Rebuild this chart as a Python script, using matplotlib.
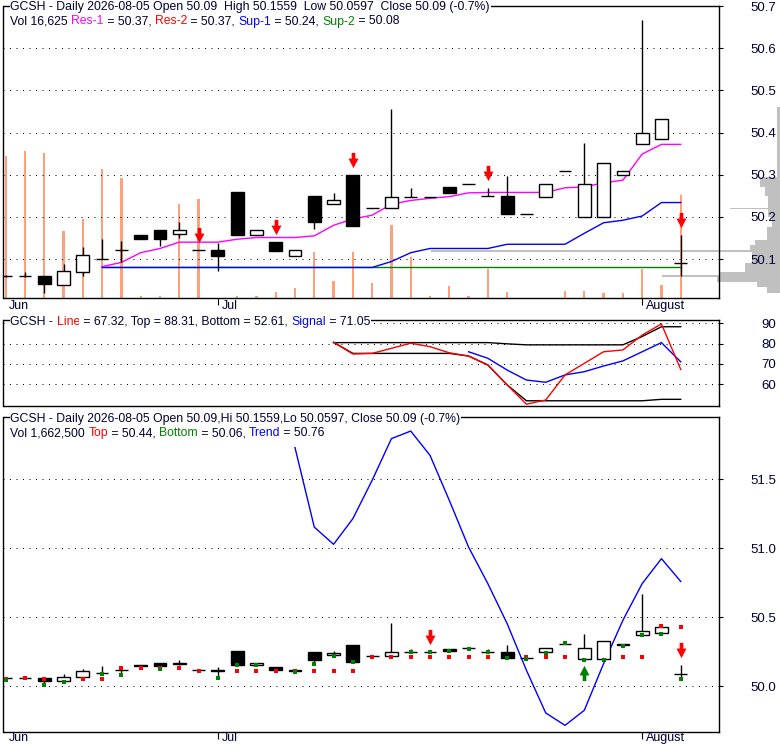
import numpy as np
import matplotlib
matplotlib.use("Agg")
import matplotlib.pyplot as plt
from matplotlib import transforms

plt.rcParams['font.family'] = ['Liberation Sans', 'DejaVu Sans']

nan = np.nan

# daily candles, 2026-06-15 .. 2026-08-05 (trading days)
opens = [50.060, 50.060, 50.060, 50.039, 50.070, 50.100, 50.121, 50.158, 50.170, 50.159,
         50.121, 50.121, 50.259, 50.158, 50.140, 50.108, 50.249, 50.230, 50.299, 50.220,
         50.220, 50.248, 50.248, 50.270, 50.279, 50.249, 50.249, 50.208, 50.248, 50.310,
         50.199, 50.199, 50.299, 50.374, 50.384, 50.090]
highs = [50.062, 50.068, 50.060, 50.088, 50.129, 50.147, 50.143, 50.158, 50.170, 50.188,
         50.121, 50.139, 50.259, 50.170, 50.140, 50.121, 50.249, 50.257, 50.299, 50.220,
         50.457, 50.268, 50.248, 50.270, 50.279, 50.268, 50.297, 50.208, 50.279, 50.310,
         50.376, 50.329, 50.309, 50.666, 50.433, 50.1559]
lows = [50.058, 50.057, 50.020, 50.039, 50.060, 50.100, 50.092, 50.148, 50.132, 50.151,
        50.121, 50.072, 50.158, 50.158, 50.120, 50.108, 50.171, 50.230, 50.179, 50.220,
        50.220, 50.248, 50.248, 50.257, 50.279, 50.249, 50.207, 50.208, 50.248, 50.310,
        50.199, 50.199, 50.299, 50.374, 50.384, 50.0597]
closes = [50.060, 50.060, 50.040, 50.071, 50.109, 50.100, 50.121, 50.148, 50.148, 50.170,
          50.121, 50.108, 50.158, 50.170, 50.120, 50.121, 50.188, 50.240, 50.179, 50.220,
          50.248, 50.248, 50.248, 50.257, 50.279, 50.249, 50.207, 50.208, 50.279, 50.310,
          50.279, 50.329, 50.309, 50.398, 50.433, 50.090]
volume = [22900, 23700, 23400, 10800, 12700, 20800, 19400, 200, 300, 15200,
          16000, 0, 200, 200, 1000, 1600, 7400, 2700, 7400, 2300,
          11800, 6500, 200, 1900, 300, 4700, 1000, 0, 0, 1100,
          1100, 800, 800, 4700, 2100, 16625]

month_pos = [0, 11, 33]
month_lab = ['Jun', 'Jul', 'August']

# support / resistance lines (top panel)
res1 = [nan] * 5 + [50.082, 50.092, 50.115, 50.125, 50.140, 50.140, 50.140, 50.147, 50.151, 50.151,
                    50.151, 50.155, 50.180, 50.195, 50.204, 50.230, 50.239, 50.244, 50.248, 50.257,
                    50.258, 50.258, 50.258, 50.258, 50.269, 50.271, 50.281, 50.287, 50.349, 50.372,
                    50.372]
sup1 = [nan] * 5 + [50.080] * 15 + [50.094, 50.115, 50.125, 50.125, 50.125, 50.125, 50.135, 50.135,
                                    50.135, 50.135, 50.161, 50.186, 50.192, 50.202, 50.234, 50.234]
sup2 = [nan] * 5 + [50.080] * 31
sell_top = [10, 14, 18, 25, 35]

# volume at price (right side histogram)
vp_lo = [50.294, 50.271, 50.249, 50.222, 50.218, 50.200, 50.177, 50.145, 50.133, 50.121,
         50.116, 50.090, 50.070, 50.062, 50.058, 50.046, 50.034, 50.019]
vp_hi = [50.460, 50.294, 50.271, 50.249, 50.222, 50.218, 50.200, 50.177, 50.145, 50.133,
         50.121, 50.116, 50.090, 50.070, 50.062, 50.058, 50.046, 50.034]
vp_len = [3, 20, 15, 12, 50, 12, 8, 13, 25, 30, 349, 28, 35, 60, 118, 63, 23, 13]

# oscillator panel
osc_line = [nan] * 17 + [80.65, 74.9, 75.2, 77.7, 80.2, 78.5, 75.5, 73.9, 69.5, 59.7,
                         50.2, 52.3, 64.6, 70.3, 76.0, 76.9, 84.2, 89.7, 67.32]
osc_top = [nan] * 17 + [80.5] * 9 + [79.9] + [79.4] * 6 + [83.5, 88.3, 88.31]
osc_bottom = [nan] * 17 + [80.65] + [75.2] * 6 + [73.9, 69.5, 59.7, 51.9] + [51.9] * 6 + [52.61, 52.61]
osc_signal = [nan] * 24 + [76.0, 72.8, 67.0, 62.1, 61.0, 64.6, 66.2, 69.0, 71.5, 76.0, 80.5, 71.05]

# bottom panel
trend = [nan] * 15 + [51.730, 51.154, 51.029, 51.215, 51.493, 51.795, 51.850, 51.674, 51.348,
                      51.009, 50.744, 50.454, 50.116, 49.807, 49.717, 49.826, 50.164, 50.478,
                      50.744, 50.925, 50.76]
top_pts = [50.056, 50.063, 50.056, nan, 50.053, 50.056, 50.135, 50.133, 50.133, 50.135,
           50.114, nan, 50.114, 50.114, 50.114, 50.114, 50.114, 50.114, 50.114, 50.215,
           50.215, 50.215, 50.215, 50.215, 50.215, 50.215, nan, 50.215, 50.215, 50.215,
           nan, nan, 50.215, 50.215, 50.440, 50.433]
bot_pts = [50.049, nan, 50.012, 50.029, nan, 50.092, 50.085, nan, 50.126, nan,
           nan, 50.063, 50.155, 50.155, nan, 50.106, 50.164, 50.220, 50.176, nan,
           nan, 50.246, 50.246, 50.256, 50.273, 50.246, 50.205, 50.198, 50.244, 50.312,
           50.188, 50.188, 50.290, 50.370, 50.377, 50.056]
sell_bot = [22, 35]
buy_bot = [30]

n = len(opens)
x = np.arange(n)

W, H = 780, 745
fig = plt.figure(figsize=(W / 100, H / 100), dpi=100)
fig.patch.set_facecolor('white')


def rect(x0, y0, x1, y1):
    return [x0 / W, 1 - y1 / H, (x1 - x0) / W, (y1 - y0) / H]


XLIM = (-0.114, 37.0)
INK = '#000033'
DOTS = (0, (1, 5.5))
HEAD = 8.85
down_arrow = [(-0.24, 1), (0.24, 1), (0.24, 0.25), (0.65, 0.25), (0, -1),
              (-0.65, 0.25), (-0.24, 0.25), (-0.24, 1)]
up_arrow = [(a, -b) for a, b in down_arrow]


def shifted(ax, dy):
    return ax.transData + transforms.ScaledTranslation(0, dy / 100, fig.dpi_scale_trans)


def price_axis(ax, ticks, labels):
    ax.set_xlim(*XLIM)
    ax.set_yticks(ticks)
    ax.set_yticklabels(labels)
    ax.yaxis.tick_right()
    ax.tick_params(axis='y', direction='out', length=2.9, width=0.8, pad=37.9,
                   labelsize=9.5, labelcolor=INK)
    for t in ax.get_yticklabels():
        t.set_horizontalalignment('right')
    ax.grid(axis='y', color='black', linestyle=DOTS, linewidth=0.72)
    for s in ax.spines.values():
        s.set_linewidth(1.0)


def months(ax, dy):
    tr = transforms.blended_transform_factory(ax.transData, ax.transAxes) + \
        transforms.ScaledTranslation(3.5 / 100, -dy / 100, fig.dpi_scale_trans)
    for p, lab in zip(month_pos, month_lab):
        ax.text(p, 0, lab, transform=tr, ha='left', va='top', fontsize=9, color=INK, clip_on=False)
    ax.set_xticks(month_pos[1:])
    ax.set_xticklabels([])
    ax.tick_params(axis='x', direction='out', length=4.8, width=0.8)


def candles(ax):
    o = np.array(opens)
    c = np.array(closes)
    ax.vlines(x, lows, highs, color='black', lw=1.0, zorder=3)
    up, dn, dj = c > o, c < o, c == o
    ax.bar(x[up], (c - o)[up], bottom=o[up], width=0.66, color='white',
           edgecolor='black', lw=1.0, zorder=4)
    ax.bar(x[dn], (c - o)[dn], bottom=o[dn], width=0.66, color='black',
           edgecolor='black', lw=1.0, zorder=4)
    ax.hlines(o[dj], x[dj] - 0.33, x[dj] + 0.33, color='black', lw=1.0, zorder=4)


def rainbow(xp, yp, parts, size=HEAD, bg=False):
    r = fig.canvas.get_renderer()

    def width(s):
        t = fig.text(0, 0, s, fontsize=size)
        w = t.get_window_extent(r).width
        t.remove()
        return w

    bar = width('|')
    prefix = ''
    for s, c in parts:
        dx = width(prefix + '|') - bar if prefix else 0
        kw = dict(color=c, fontsize=size, va='baseline', ha='left', zorder=10)
        if bg:
            kw['bbox'] = dict(facecolor='white', edgecolor='none', pad=0.6)
        fig.text((xp + dx) / W, 1 - yp / H, s, **kw)
        prefix += s


# ---------------- top panel ----------------
TOP_Y = (50.0082, 50.7011)
axp = fig.add_axes(rect(3.5, 5.7, 780, 297.7))
axp.barh(vp_lo, vp_len, height=np.array(vp_hi) - np.array(vp_lo), align='edge',
         color='#C0C0C0', lw=0)
axp.set_xlim(776.5, 0)
axp.set_ylim(*TOP_Y)
axp.axis('off')
axp.set_zorder(0)

ax1 = fig.add_axes(rect(3.5, 5.7, 719.3, 297.7))
axv = ax1.twinx()
axv.bar(x, volume, width=0.12, color='#FFA07A', lw=0, antialiased=False)
axv.set_ylim(0, 47130)
axv.axis('off')
axv.set_zorder(1)
ax1.set_zorder(2)
ax1.patch.set_visible(False)

ax1.plot(x, sup2, color='#008000', lw=1.0, zorder=2)
ax1.plot(x, sup1, color='blue', lw=1.0, zorder=2)
ax1.plot(x, res1, color='magenta', lw=1.0, zorder=2)
candles(ax1)
ax1.plot(sell_top, [highs[i] for i in sell_top], ls='none', marker=down_arrow, ms=11,
         color='red', mew=0, zorder=6, transform=shifted(ax1, 15))
price_axis(ax1, [50.1, 50.2, 50.3, 50.4, 50.5, 50.6, 50.7],
           ['50.1', '50.2', '50.3', '50.4', '50.5', '50.6', '50.7'])
months(ax1, 2.5)
ax1.set_ylim(*TOP_Y)

# ---------------- oscillator panel ----------------
ax2 = fig.add_axes(rect(3.5, 320, 719.3, 406))
ax2.plot(x, osc_top, color='black', lw=1.0)
ax2.plot(x, osc_bottom, color='black', lw=1.0)
ax2.plot(x, osc_signal, color='blue', lw=1.0)
ax2.plot(x, osc_line, color='red', lw=1.0)
price_axis(ax2, [60, 70, 80, 90], ['60', '70', '80', '90'])
ax2.set_xticks([])
ax2.set_ylim(49.33, 91.62)

# ---------------- bottom panel ----------------
ax3 = fig.add_axes(rect(3.5, 416.7, 719.3, 731.7))
ax3.plot(x, trend, color='blue', lw=1.0, zorder=2)
candles(ax3)
ax3.plot(x, top_pts, ls='none', marker='s', ms=2.4, color='red', mew=0, zorder=5)
ax3.plot(x, bot_pts, ls='none', marker='s', ms=2.4, color='#008000', mew=0, zorder=5)
ax3.plot(sell_bot, [highs[i] for i in sell_bot], ls='none', marker=down_arrow, ms=11,
         color='red', mew=0, zorder=6, transform=shifted(ax3, 15))
ax3.plot(buy_bot, [lows[i] for i in buy_bot], ls='none', marker=up_arrow, ms=11,
         color='#008000', mew=0, zorder=6, transform=shifted(ax3, -14))
price_axis(ax3, [50.0, 50.5, 51.0, 51.5], ['50.0', '50.5', '51.0', '51.5'])
months(ax3, 0.5)
ax3.set_ylim(49.671, 51.954)

# ---------------- headers ----------------
rainbow(10.5, 10.3, [("GCSH - Daily 2026-08-05 Open 50.09  High 50.1559  Low 50.0597  Close 50.09 (-0.7%)", INK)],
        bg=True)
rainbow(10.5, 24.5, [("Vol 16,625 ", INK), ("Res-1", 'magenta'), (" = 50.37, ", INK),
                     ("Res-2", 'red'), (" = 50.37, ", INK), ("Sup-1", 'blue'),
                     (" = 50.24, ", INK), ("Sup-2", '#008000'), (" = 50.08", INK)])
rainbow(10.5, 325, [("GCSH - ", INK), ("Line", 'red'),
                    (" = 67.32, Top = 88.31, Bottom = 52.61, ", INK),
                    ("Signal", 'blue'), (" = 71.05", INK)], bg=True)
rainbow(10.5, 421.7, [("GCSH - Daily 2026-08-05 Open 50.09,Hi 50.1559,Lo 50.0597, Close 50.09 (-0.7%)", INK)],
        bg=True)
rainbow(10.5, 436.3, [("Vol 1,662,500 ", INK), ("Top", 'red'), (" = 50.44, ", INK),
                      ("Bottom", '#008000'), (" = 50.06, ", INK), ("Trend", 'blue'),
                      (" = 50.76", INK)])

fig.savefig('out.png', dpi=100)
